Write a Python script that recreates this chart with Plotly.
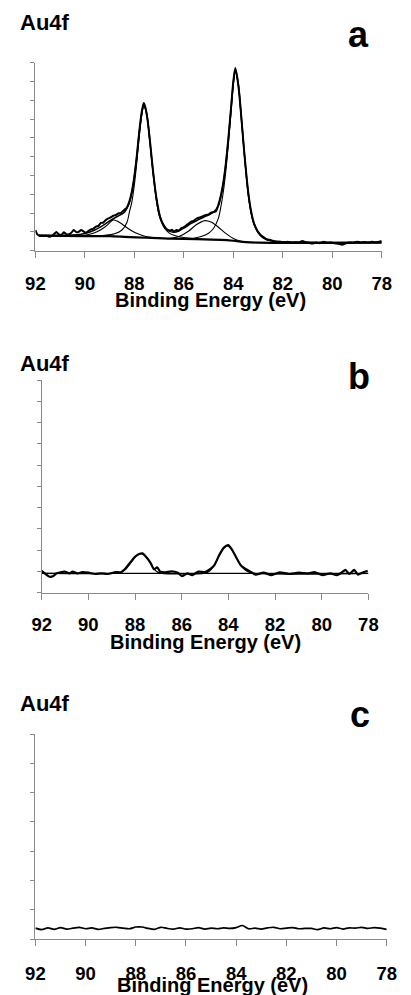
import plotly.graph_objects as go

# ---------------- data ----------------
x_ticks = [92, 90, 88, 86, 84, 82, 80, 78]
x_ticktext = ["92", "90", "88", "86", "84", "82", "80", "78"]
panel_letters = ["a", "b", "c"]
panel_label = "Au4f"
x_title = "Binding Energy (eV)"

# Panel a: raw spectrum
raw_a_E = [92.00, 91.93, 91.85, 91.70, 91.55, 91.45, 91.30, 91.15, 91.05, 90.95,
           90.85, 90.75, 90.65, 90.55, 90.45, 90.35, 90.25, 90.15, 90.05, 89.97,
           89.85, 89.75, 89.65, 89.55, 89.45, 89.35, 89.25, 89.15, 89.05, 88.95,
           88.85, 88.75, 88.65, 88.55, 88.45, 88.38, 88.30, 88.20, 88.10, 88.00,
           87.90, 87.80, 87.70, 87.62, 87.55, 87.45, 87.35, 87.25, 87.15, 87.05,
           86.95, 86.85, 86.75, 86.65, 86.55, 86.48, 86.40, 86.30, 86.20, 86.10,
           86.00, 85.90, 85.80, 85.70, 85.60, 85.50, 85.40, 85.30, 85.20, 85.10,
           85.00, 84.90, 84.80, 84.70, 84.60, 84.50, 84.40, 84.30, 84.20, 84.10,
           84.00, 83.92, 83.85, 83.75, 83.65, 83.55, 83.45, 83.35, 83.25, 83.15,
           83.05, 82.95, 82.85, 82.75, 82.65, 82.55, 82.45, 82.35, 82.25, 82.10,
           81.95, 81.80, 81.65, 81.50, 81.35, 81.20, 81.10, 80.95, 80.80, 80.65,
           80.50, 80.35, 80.20, 80.05, 79.90, 79.75, 79.60, 79.45, 79.30, 79.15,
           79.00, 78.85, 78.70, 78.55, 78.40, 78.25, 78.10, 78.00]
raw_a_I = [1.10, 0.88, 0.80, 0.78, 0.80, 0.74, 0.82, 0.99, 0.86, 0.85,
           0.98, 0.88, 0.87, 0.95, 1.10, 0.99, 1.00, 1.10, 1.02, 0.96,
           1.05, 1.13, 1.18, 1.28, 1.32, 1.48, 1.50, 1.64, 1.72, 1.78,
           1.86, 1.90, 1.98, 2.00, 2.12, 2.20, 2.30, 2.62, 3.15, 3.95,
           5.05, 6.35, 7.40, 7.85, 7.60, 6.80, 5.60, 4.30, 3.20, 2.35,
           1.75, 1.42, 1.20, 1.10, 1.08, 1.12, 1.02, 1.10, 1.08, 1.20,
           1.25, 1.35, 1.45, 1.55, 1.58, 1.70, 1.75, 1.80, 1.85, 1.90,
           1.92, 2.02, 2.05, 2.10, 2.45, 2.95, 3.65, 4.65, 5.95, 7.45,
           9.00, 9.72, 9.30, 8.25, 6.70, 5.15, 3.75, 2.65, 1.90, 1.40,
           1.12, 0.92, 0.78, 0.70, 0.60, 0.58, 0.55, 0.50, 0.48, 0.47,
           0.44, 0.47, 0.43, 0.45, 0.44, 0.52, 0.46, 0.42, 0.38, 0.43,
           0.40, 0.48, 0.42, 0.44, 0.40, 0.37, 0.32, 0.40, 0.44, 0.42,
           0.48, 0.44, 0.46, 0.44, 0.47, 0.45, 0.48, 0.52]

# Panel a: fitted envelope
fit_a_E = [91.85, 91.0, 90.5, 90.0, 89.6, 89.2, 89.0, 88.8, 88.6, 88.4,
           88.2, 88.1, 88.0, 87.9, 87.8, 87.7, 87.62, 87.5, 87.4, 87.3,
           87.2, 87.1, 87.0, 86.8, 86.6, 86.4, 86.2, 86.0, 85.7, 85.4,
           85.2, 85.0, 84.8, 84.6, 84.5, 84.4, 84.3, 84.2, 84.1, 84.0,
           83.92, 83.8, 83.7, 83.6, 83.5, 83.4, 83.3, 83.2, 83.0, 82.8,
           82.5, 82.0, 81.0, 80.0, 78.0]
fit_a_I = [0.82, 0.81, 0.83, 0.92, 1.10, 1.40, 1.58, 1.74, 1.88, 2.05,
           2.55, 3.10, 3.90, 5.00, 6.30, 7.30, 7.75, 7.30, 6.20, 4.90,
           3.70, 2.70, 2.00, 1.35, 1.05, 0.98, 1.05, 1.20, 1.45, 1.65,
           1.78, 1.90, 2.05, 2.40, 2.90, 3.60, 4.60, 5.90, 7.40, 8.90,
           9.62, 8.90, 7.50, 5.90, 4.40, 3.10, 2.20, 1.60, 1.00, 0.72,
           0.55, 0.48, 0.45, 0.44, 0.44]

# Panel a: components
comp1_E = [89.8, 89.2, 88.8, 88.5, 88.3, 88.2, 88.1, 88.0, 87.9, 87.8,
           87.7, 87.62, 87.5, 87.4, 87.3, 87.2, 87.1, 87.0, 86.8, 86.6,
           86.4, 86.0, 85.5]
comp1_I = [0.78, 0.82, 0.90, 1.10, 1.50, 2.05, 2.60, 3.50, 4.70, 6.10,
           7.20, 7.70, 7.25, 6.15, 4.85, 3.60, 2.60, 1.90, 1.25, 0.95,
           0.82, 0.70, 0.64]

comp2_E = [90.4, 90.0, 89.6, 89.2, 89.0, 88.86, 88.7, 88.5, 88.3, 88.0,
           87.7, 87.4, 87.0]
comp2_I = [0.78, 0.82, 0.95, 1.25, 1.48, 1.63, 1.58, 1.42, 1.22, 0.98,
           0.82, 0.72, 0.68]

comp3_E = [86.6, 86.2, 85.8, 85.5, 85.15, 84.9, 84.6, 84.3, 84.0, 83.7, 83.4]
comp3_I = [0.64, 0.75, 1.05, 1.38, 1.60, 1.52, 1.25, 0.92, 0.65, 0.50, 0.44]

comp4_E = [85.6, 85.3, 85.0, 84.8, 84.6, 84.5, 84.4, 84.3, 84.2, 84.1,
           84.0, 83.92, 83.8, 83.7, 83.6, 83.5, 83.4, 83.3, 83.2, 83.0,
           82.8, 82.5, 82.0]
comp4_I = [0.66, 0.75, 0.93, 1.18, 1.73, 2.35, 3.15, 4.25, 5.65, 7.25,
           8.80, 9.55, 8.85, 7.45, 5.85, 4.35, 3.05, 2.15, 1.55, 0.95,
           0.68, 0.52, 0.46]

# Panel a: background
bg_a_E = [91.85, 90.0, 89.0, 88.4, 87.5, 86.5, 85.5, 84.5, 84.0, 83.5, 83.0, 78.0]
bg_a_I = [0.80, 0.78, 0.77, 0.74, 0.69, 0.64, 0.62, 0.58, 0.53, 0.46, 0.43, 0.43]

# Panel b: raw spectrum
raw_b_E = [92.0, 91.84, 91.67, 91.5, 91.36, 91.02, 90.8, 90.67, 90.47, 90.26,
           89.99, 89.71, 89.44, 89.17, 88.83, 88.62, 88.41, 88.21, 88.0, 87.8,
           87.69, 87.53, 87.32, 87.19, 87.05, 86.92, 86.71, 86.44, 86.17, 85.99,
           85.76, 85.55, 85.28, 85.01, 84.8, 84.6, 84.39, 84.19, 84.01, 83.85,
           83.64, 83.44, 83.24, 83.03, 82.83, 82.49, 82.15, 81.81, 81.4, 80.99,
           80.58, 80.31, 79.97, 79.63, 79.36, 79.15, 78.98, 78.82, 78.61, 78.44,
           78.27, 78.03]
raw_b_I = [1.03, 0.88, 0.75, 0.78, 0.91, 0.99, 0.91, 0.99, 0.91, 0.97,
           0.94, 0.88, 0.91, 0.88, 0.97, 0.96, 1.14, 1.41, 1.69, 1.83,
           1.85, 1.69, 1.38, 1.10, 1.19, 0.99, 0.96, 1.00, 0.94, 0.78,
           0.91, 0.83, 0.99, 0.97, 1.10, 1.30, 1.77, 2.12, 2.24, 2.04,
           1.61, 1.25, 1.10, 0.97, 0.85, 0.94, 0.83, 0.96, 0.88, 0.94,
           0.91, 0.97, 0.83, 0.91, 0.82, 0.94, 1.07, 0.88, 1.07, 0.85,
           0.94, 1.03]

# Panel b: fit and baseline
fit_b_E = [92.0, 88.9, 88.6, 88.4, 88.2, 88.0, 87.85, 87.72, 87.55, 87.4,
           87.25, 87.1, 86.9, 85.0, 84.8, 84.6, 84.4, 84.2, 84.02, 83.85,
           83.65, 83.45, 83.25, 83.0, 78.0]
fit_b_I = [0.91, 0.91, 0.95, 1.10, 1.38, 1.66, 1.80, 1.83, 1.72, 1.50,
           1.22, 1.02, 0.92, 0.92, 1.02, 1.28, 1.72, 2.10, 2.20, 2.02,
           1.62, 1.26, 1.04, 0.93, 0.91]
base_b_E = [92.0, 78.0]
base_b_I = [0.91, 0.91]

# Panel c: raw spectrum
raw_c_E = [92.0, 91.75, 91.5, 91.25, 91.0, 90.75, 90.5, 90.25, 90.0, 89.75,
           89.5, 89.25, 89.0, 88.75, 88.5, 88.25, 88.0, 87.75, 87.5, 87.25,
           87.0, 86.75, 86.5, 86.25, 86.0, 85.75, 85.5, 85.25, 85.0, 84.75,
           84.5, 84.25, 84.0, 83.75, 83.5, 83.25, 83.0, 82.75, 82.5, 82.25,
           82.0, 81.75, 81.5, 81.25, 81.0, 80.75, 80.5, 80.25, 80.0, 79.75,
           79.5, 79.25, 79.0, 78.75, 78.5, 78.25, 78.0]
raw_c_I = [0.38, 0.33, 0.39, 0.34, 0.40, 0.35, 0.38, 0.41, 0.36, 0.39,
           0.34, 0.37, 0.40, 0.41, 0.38, 0.36, 0.42, 0.42, 0.37, 0.34,
           0.41, 0.37, 0.35, 0.39, 0.35, 0.36, 0.40, 0.35, 0.38, 0.36,
           0.39, 0.37, 0.40, 0.47, 0.36, 0.38, 0.35, 0.39, 0.41, 0.36,
           0.38, 0.40, 0.36, 0.37, 0.37, 0.33, 0.39, 0.36, 0.40, 0.35,
           0.39, 0.38, 0.41, 0.37, 0.40, 0.38, 0.34]

y_max = [10, 10, 7]

# ---------------- layout helpers ----------------
W, H = 411, 995
def px(x):
    return x / W
def py(y):
    return 1 - y / H

FONT = "Liberation Sans, Arial, sans-serif"
AXIS_GRAY = "#8a8a8a"

fig = go.Figure()

def add_line(x, y, n, width, shape="linear", smooth=None, color="black"):
    line = dict(color=color, width=width, shape=shape)
    if smooth is not None:
        line["smoothing"] = smooth
    fig.add_trace(go.Scatter(x=x, y=y, mode="lines", line=line,
                             xaxis="x" if n == 1 else f"x{n}",
                             yaxis="y" if n == 1 else f"y{n}",
                             showlegend=False, hoverinfo="skip"))

# panel a
add_line(bg_a_E, bg_a_I, 1, 2.2, "spline", 0.8)
add_line(comp1_E, comp1_I, 1, 1.1, "spline", 0.8)
add_line(comp2_E, comp2_I, 1, 1.1, "spline", 0.8)
add_line(comp3_E, comp3_I, 1, 1.1, "spline", 0.8)
add_line(comp4_E, comp4_I, 1, 1.1, "spline", 0.8)
add_line(fit_a_E, fit_a_I, 1, 1.5, "spline", 0.8)
add_line(raw_a_E, raw_a_I, 1, 2.0, "spline", 0.5)
# panel b
add_line(base_b_E, base_b_I, 2, 1.1)
add_line(fit_b_E, fit_b_I, 2, 1.1, "spline", 0.8)
add_line(raw_b_E, raw_b_I, 2, 2.2, "spline", 0.6)
# panel c
add_line(raw_c_E, raw_c_I, 3, 1.7, "spline", 0.8)

# plot area geometry (pixels)
panels = [
    dict(x0=26.7, x1=390.7, y0=62.7, y1=250.7),
    dict(x0=33.3, x1=376.7, y0=380.0, y1=592.7),
    dict(x0=26.7, x1=396.0, y0=734.0, y1=939.3),
]
standoff = [10, 9, 11]

layout = dict(
    width=W, height=H, margin=dict(l=0, r=0, t=0, b=0),
    paper_bgcolor="white", plot_bgcolor="white",
    font=dict(family=FONT, color="black"),
    showlegend=False,
)
annotations = []
for i, p in enumerate(panels):
    n = i + 1
    xa = "xaxis" if n == 1 else f"xaxis{n}"
    ya = "yaxis" if n == 1 else f"yaxis{n}"
    layout[xa] = dict(
        domain=[px(p["x0"]), px(p["x1"])],
        anchor="y" if n == 1 else f"y{n}",
        range=[92, 78], tickmode="array", tickvals=x_ticks, ticktext=x_ticktext,
        showline=True, linecolor=AXIS_GRAY, linewidth=1,
        ticks="outside", ticklen=6, tickcolor=AXIS_GRAY, tickwidth=1,
        showgrid=False, zeroline=False,
        tickfont=dict(family=FONT, size=18.5, color="black", weight="bold"),
        ticklabelstandoff=standoff[i],
    )
    layout[ya] = dict(
        domain=[py(p["y1"]), py(p["y0"])],
        anchor="x" if n == 1 else f"x{n}",
        range=[0, y_max[i]], tickmode="linear", tick0=0, dtick=1,
        showline=True, linecolor=AXIS_GRAY, linewidth=1,
        ticks="outside", ticklen=4, tickcolor=AXIS_GRAY, tickwidth=1,
        showticklabels=False, showgrid=False, zeroline=False,
    )

# text labels
label_base = [31.7, 372.7, 712.7]
letter_base = [48.3, 390.7, 728.3]
letter_x = [366, 367, 368]
title_base = [308.0, 650.0, 993.0]
title_x = [211, 205.8, 212.5]
for i in range(3):
    annotations.append(dict(
        text=panel_label, xref="paper", yref="paper",
        x=px(8.3), y=py(label_base[i] + 1 + 0.212 * 22),
        xanchor="left", yanchor="bottom", showarrow=False,
        font=dict(family=FONT, size=22, color="black", weight="bold")))
    annotations.append(dict(
        text=panel_letters[i], xref="paper", yref="paper",
        x=px(letter_x[i]), y=py(letter_base[i] + 1 + 0.212 * 36),
        xanchor="center", yanchor="bottom", showarrow=False,
        font=dict(family=FONT, size=36, color="black", weight="bold")))
    annotations.append(dict(
        text=x_title, xref="paper", yref="paper",
        x=px(title_x[i]), y=py(title_base[i] + 1 + 0.212 * 20),
        xanchor="center", yanchor="bottom", showarrow=False,
        font=dict(family=FONT, size=20, color="black", weight="bold")))

layout["annotations"] = annotations
fig.update_layout(**layout)
fig.write_html("out.html")
